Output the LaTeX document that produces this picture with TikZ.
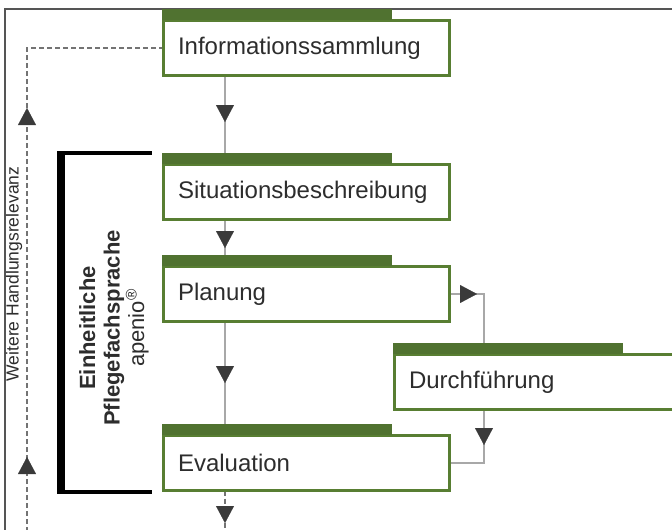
\documentclass[tikz,border=0pt]{standalone}
\usepackage{fontspec}
\setmainfont{Liberation Sans}
\usetikzlibrary{arrows.meta,decorations.markings,calc}
\definecolor{boxgreen}{RGB}{88,126,50}
\definecolor{tabgreen}{RGB}{80,114,48}
\definecolor{lgray}{RGB}{168,168,168}
\definecolor{dashgray}{RGB}{115,115,115}
\definecolor{dgray}{RGB}{58,58,58}
\definecolor{txt}{RGB}{45,45,45}
\definecolor{framec}{RGB}{85,85,85}
\pgfdeclarelayer{background}
\pgfsetlayers{background,main}
\newcommand\mytip{\arrow{Triangle[length=17pt,width=18pt,color=dgray,line width=0.1pt]}}
\begin{document}
\begin{tikzpicture}[x=1pt,y=-1pt,
  box/.style={rectangle, draw=boxgreen, line width=3pt, fill=white, outer sep=0pt,
    minimum height=55pt, text width=257pt, inner xsep=14.5pt, align=left,
    anchor=north west, font=\fontsize{24}{28}\selectfont, text=txt},
  tabbox/.style={rectangle, fill=tabgreen, minimum width=230pt,
    minimum height=10.5pt, inner sep=0pt, outer sep=0pt, anchor=south west},
  conn/.style={draw=lgray, line width=1.6pt},
  dconn/.style={draw=dashgray, line width=1.3pt, dash pattern=on 5pt off 3pt},
  arr/.style={postaction={decorate},
    decoration={markings, mark=at position #1 with {\mytip}}}]
\useasboundingbox (0,0) rectangle (672,530);
\clip (0,0) rectangle (672,530);

% frame
\draw[framec, line width=1.3pt] (5,540) -- (5,9) -- (690,9);

% boxes
\node[box] (b1) at (163.5,20.5) {Informationssammlung};
\node[box] (b2) at (163.5,164.5) {Situationsbeschreibung};
\node[box] (b3) at (163.5,266.5) {Planung};
\node[box, text width=300pt] (b4) at (394.5,354.5) {Durchführung};
\node[box] (b5) at (163.5,435.5) {Evaluation};

% tabs
\node[tabbox] (t1) at ($(b1.north west)+(-1.5,-1)$) {};
\node[tabbox] (t2) at ($(b2.north west)+(-1.5,-1)$) {};
\node[tabbox] (t3) at ($(b3.north west)+(-1.5,-1)$) {};
\node[tabbox] (t4) at ($(b4.north west)+(-1.5,-1)$) {};
\node[tabbox] (t5) at ($(b5.north west)+(-1.5,-1)$) {};

\coordinate (ax) at (225,0);
\coordinate (bx) at (484,0);
\coordinate (fb) at (27,540);
\coordinate (ev) at (225,540);

\begin{pgfonlayer}{background}
\draw[conn, arr=46.5pt] (b1.south -| ax) -- (t2.north -| ax);
\draw[conn, arr=28.5pt] (b2.south -| ax) -- (t3.north -| ax);
\draw[conn, arr=61.5pt] (b3.south -| ax) -- (t5.north -| ax);
\draw[dconn, arr=32.5pt] (b5.south -| ax) -- (ev);
\draw[conn, line width=1.3pt, arr=27.5pt] (b3.east) -| (t4.north -| bx);
\draw[conn, line width=1.3pt, arr=35.5pt] (b4.south -| bx) |- (b5.east);
\draw[dconn, postaction={decorate},
  decoration={markings, mark=at position 83pt with {\mytip},
    mark=at position 432pt with {\mytip}}] (fb) |- (b1.west);
\end{pgfonlayer}

% bracket
\fill[black] (57,151) rectangle (65,494);
\fill[black] (57,151) rectangle (152,154.5);
\fill[black] (57,490) rectangle (152,494);

% rotated labels
\node[rotate=90, font=\fontsize{17.5}{20}\selectfont, text=txt, inner sep=0pt]
  (weit) at (14,274) {Weitere Handlungsrelevanz};
\node[rotate=90, align=center, font=\fontsize{22}{24.5}\selectfont, text=txt, inner sep=0pt]
  (ein) at (114,328) {\textbf{Einheitliche}\\\textbf{Pflegefachsprache}\\apenio\textsuperscript{®}};
\end{tikzpicture}
\end{document}
